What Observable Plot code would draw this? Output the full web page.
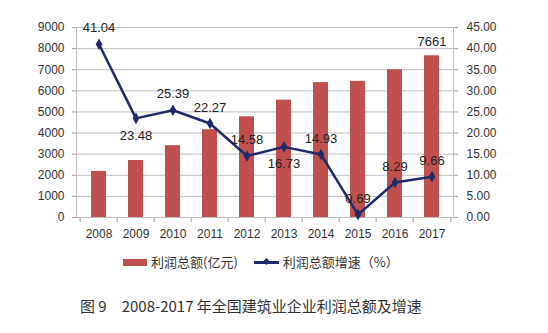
<!DOCTYPE html>
<html><head><meta charset="utf-8">
<script src="https://cdn.jsdelivr.net/npm/d3@7"></script>
<script src="https://cdn.jsdelivr.net/npm/@observablehq/plot@0.6"></script>
<style>
body{margin:0;background:#fff;font-family:"Liberation Sans",Arial,sans-serif;}
#wrap{width:548px;height:333px;position:relative;overflow:hidden;}
#chart{position:absolute;left:0;top:0;}
.legend{position:absolute;top:254px;left:123px;display:flex;align-items:center;font-family:"Noto Sans CJK SC",sans-serif;font-size:13px;color:#333;line-height:16px;white-space:nowrap;}
.sw-bar{display:inline-block;width:24px;height:7px;background:#c0504d;margin-right:4px;}
.sw-line{display:inline-block;position:relative;width:25px;height:10px;margin-left:16px;margin-right:4px;}
.sw-line:before{content:"";position:absolute;left:0;right:0;top:4px;height:2.5px;background:#1f2a6b;}
.sw-line:after{content:"";position:absolute;left:10px;top:2px;width:5px;height:5px;background:#1f2a6b;transform:rotate(45deg);}
.caption{position:absolute;top:295px;left:80px;font-family:"Noto Sans CJK SC",sans-serif;font-size:15px;color:#333;white-space:pre;}
.caption .gap{display:inline-block;width:15px;}
</style></head><body>
<div id="wrap">
<div id="chart"></div>
<div class="legend"><span class="sw-bar"></span><span id="lg1"></span><span class="sw-line"></span><span id="lg2"></span></div>
<div class="caption"><span id="cap1"></span><span class="gap"></span><span id="cap2"></span></div>
</div>
<script>
const years = ["2008","2009","2010","2011","2012","2013","2014","2015","2016","2017"];
const profit = [2180, 2700, 3400, 4160, 4770, 5560, 6390, 6450, 7000, 7661];
const growth = [41.04, 23.48, 25.39, 22.27, 14.58, 16.73, 14.93, 0.69, 8.29, 9.66];
const leftTicks = [0,1000,2000,3000,4000,5000,6000,7000,8000,9000];
const rightTicks = [0,5,10,15,20,25,30,35,40,45];
const growthLabelsBelow = ["2009","2013"];
const profitLabelYears = ["2017"];
const seriesNames = ["利润总额(亿元)", "利润总额增速（%）"];
const captionParts = ["图 9", "2008-2017 年全国建筑业企业利润总额及增速"];

const yMax = leftTicks[leftTicks.length-1];
const ratio = yMax / rightTicks[rightTicks.length-1];
const data = years.map((y,i)=>({year:y, profit:profit[i], growth:growth[i]}));
const boundaries = years.map(y=>({year:y, last:false})).concat([{year:years[years.length-1], last:true}]);

const W = 548, H = 245, mL = 76, mR = 95, mT = 27, mB = 28;
const step = (W - mL - mR) / years.length;
const tickLen = 5 * yMax / (H - mT - mB); // 5px expressed in y units
const gy = d => d.growth * ratio;

const chart = Plot.plot({
  width: W, height: H,
  marginLeft: mL, marginRight: mR, marginTop: mT, marginBottom: mB,
  x: {type:"band", domain: years, paddingInner: 0.6, paddingOuter: 0.3},
  y: {domain: [0, yMax]},
  style: {fontFamily: "Liberation Sans, Arial, sans-serif", fontSize: "12px", color: "#333", background: "#fff"},
  marks: [
    Plot.gridY(leftTicks, {stroke: "#bfbfbf", strokeOpacity: 1}),
    Plot.frame({stroke: "#bfbfbf"}),
    Plot.barY(data, {x: "year", y: "profit", fill: "#c0504d"}),
    Plot.ruleX(boundaries.filter(d=>!d.last), {x: "year", y1: 0, y2: -tickLen, dx: -step/2, stroke: "#a0a0a0"}),
    Plot.ruleX(boundaries.filter(d=>d.last), {x: "year", y1: 0, y2: -tickLen, dx: step/2, stroke: "#a0a0a0"}),
    Plot.axisY(leftTicks, {anchor: "left", tickSize: 4, tickPadding: 8, stroke: "#a0a0a0", fill: "#333", label: null, tickFormat: d => String(d)}),
    Plot.axisY(leftTicks, {anchor: "right", tickSize: 4, tickPadding: 9, stroke: "#a0a0a0", fill: "#333", label: null,
      tickFormat: d => (d / ratio).toFixed(2)}),
    Plot.axisX(years, {anchor: "bottom", tickSize: 0, tickPadding: 12, fill: "#333", label: null}),
    Plot.line(data, {x: "year", y: gy, stroke: "#1f2a6b", strokeWidth: 2.5}),
    Plot.dot(data, {x: "year", y: gy, symbol: "diamond", r: 3.5, fill: "#1f2a6b", stroke: "none"}),
    Plot.text(data.filter(d=>!growthLabelsBelow.includes(d.year)), {x: "year", y: gy, text: d => d.growth.toFixed(2), dy: -16, fontSize: 13, fill: "#222"}),
    Plot.text(data.filter(d=>growthLabelsBelow.includes(d.year)), {x: "year", y: gy, text: d => d.growth.toFixed(2), dy: 17, fontSize: 13, fill: "#222"}),
    Plot.text(data.filter(d=>profitLabelYears.includes(d.year)), {x: "year", y: "profit", text: d => String(d.profit), dy: -14, fontSize: 13, fill: "#222"})
  ]
});
document.getElementById("chart").appendChild(chart);
document.getElementById("lg1").textContent = seriesNames[0];
document.getElementById("lg2").textContent = seriesNames[1];
document.getElementById("cap1").textContent = captionParts[0];
document.getElementById("cap2").textContent = captionParts[1];
</script>
</body></html>
